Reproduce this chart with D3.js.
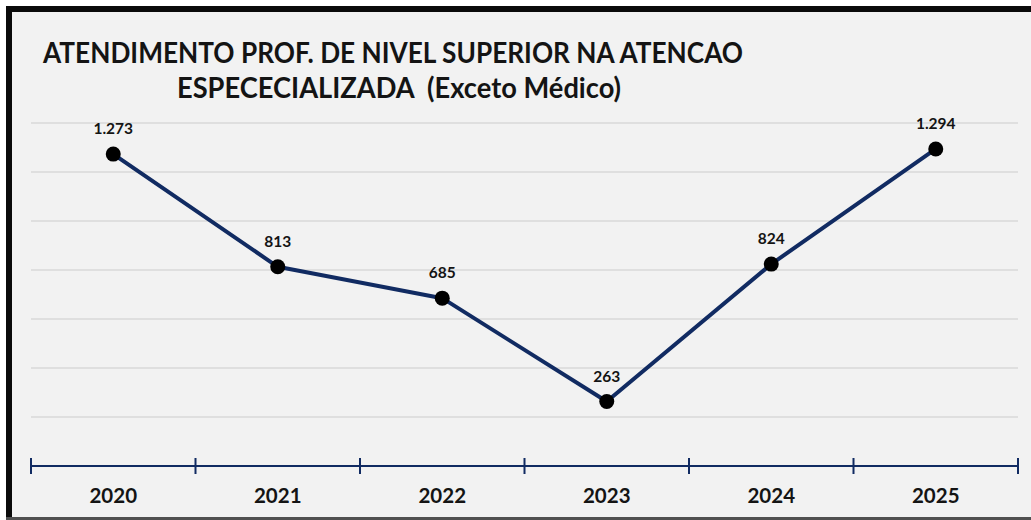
<!DOCTYPE html>
<html>
<head>
<meta charset="utf-8">
<script src="https://cdn.jsdelivr.net/npm/d3@7"></script>
<style>
  html, body { margin: 0; padding: 0; background: #ffffff; }
  svg { display: block; }
  text { font-family: Lato, "Open Sans", sans-serif; font-weight: 700; }
</style>
</head>
<body>
<svg id="chart" width="1031" height="520"></svg>
<script>
// data
var years = ['2020', '2021', '2022', '2023', '2024', '2025']
var atendimentos = [1273, 813, 685, 263, 824, 1294]
var yTicks = [0, 200, 400, 600, 800, 1000, 1200, 1400]
var titleLines = ['ATENDIMENTO PROF. DE NIVEL SUPERIOR NA ATENCAO', 'ESPECECIALIZADA  (Exceto Médico)']

var width = 1031, height = 520
var colorLine = '#112b62'
var colorGrid = '#d9d9d9'
var colorText = '#141414'

var svg = d3.select('#chart')

// frame + background
svg.append('rect').attr('x', 6).attr('y', 6).attr('width', width - 6).attr('height', height - 6).attr('fill', '#f2f2f2')
svg.append('path')
    .attr('d', 'M9,' + height + ' V9 H' + width)
    .attr('fill', 'none').attr('stroke', '#0a0a0a').attr('stroke-width', 6)
svg.append('rect').attr('x', 6).attr('y', 517).attr('width', width - 6).attr('height', 3).attr('fill', '#505050')

var x = d3.scaleBand().domain(years).range([31, 1018])
var y = d3.scaleLinear().domain([0, 1400]).range([466, 123])

// grid
svg.append('g').selectAll('line')
    .data(yTicks.slice(1))
    .join('line')
    .attr('x1', 31).attr('x2', 1018)
    .attr('y1', d => y(d)).attr('y2', d => y(d))
    .attr('stroke', colorGrid).attr('stroke-width', 1.5)

// x axis
var xAxis = svg.append('g').attr('transform', 'translate(0,' + y(0) + ')')
xAxis.append('line').attr('x1', 31).attr('x2', 1018).attr('stroke', colorLine).attr('stroke-width', 2)
var bounds = years.map(d => x(d)).concat([x.range()[1]])
xAxis.selectAll('.tick')
    .data(bounds)
    .join('line')
    .attr('class', 'tick')
    .attr('x1', d => d).attr('x2', d => d)
    .attr('y1', -8).attr('y2', 8)
    .attr('stroke', colorLine).attr('stroke-width', 2)
xAxis.selectAll('.lbl')
    .data(years)
    .join('text')
    .attr('class', 'lbl')
    .attr('x', d => x(d) + x.bandwidth() / 2)
    .attr('y', 36.5)
    .attr('text-anchor', 'middle')
    .attr('font-size', 20.5)
    .attr('fill', colorText)
    .text(d => d)

// line
var cx = (d, i) => x(years[i]) + x.bandwidth() / 2
var line = d3.line().x((d, i) => cx(d, i)).y(d => y(d))
svg.append('path')
    .datum(atendimentos)
    .attr('d', line)
    .attr('fill', 'none')
    .attr('stroke', colorLine)
    .attr('stroke-width', 4)
    .attr('stroke-linejoin', 'round')

svg.append('g').selectAll('circle')
    .data(atendimentos)
    .join('circle')
    .attr('cx', cx).attr('cy', d => y(d))
    .attr('r', 7.5)
    .attr('fill', '#000')

// value labels (pt-BR thousands separator)
var fmt = d3.formatLocale({ decimal: ',', thousands: '.', grouping: [3], currency: ['R$', ''] }).format(',d')
svg.append('g').selectAll('text')
    .data(atendimentos)
    .join('text')
    .attr('x', cx).attr('y', d => y(d) - 20)
    .attr('text-anchor', 'middle')
    .attr('font-size', 15.5)
    .attr('fill', colorText)
    .text(d => fmt(d))

// title: Calibri-like proportions, squeeze Lato into the same box
var titlePos = [{ x: 43, y: 63, w: 700 }, { x: 177, y: 98, w: 444 }]
titleLines.forEach(function(t, i) {
    svg.append('text')
        .attr('x', titlePos[i].x).attr('y', titlePos[i].y)
        .attr('font-size', 28)
        .attr('fill', colorText)
        .attr('textLength', titlePos[i].w)
        .attr('lengthAdjust', 'spacingAndGlyphs')
        .style('white-space', 'pre')
        .text(t)
})
</script>
</body>
</html>
